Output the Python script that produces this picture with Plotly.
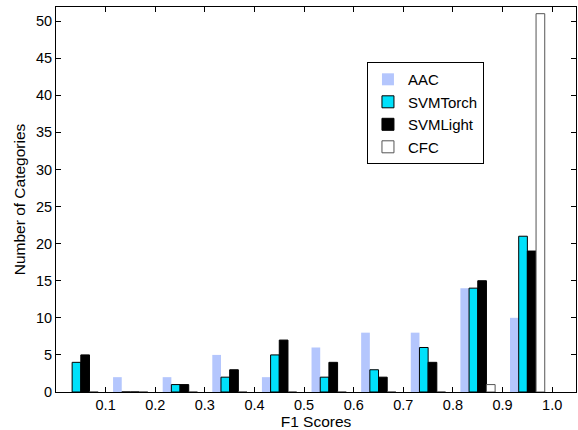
import plotly.graph_objects as go

bin_centers = [0.05, 0.15, 0.25, 0.35, 0.45, 0.55, 0.65, 0.75, 0.85, 0.95]
tick_vals = [0.1, 0.2, 0.3, 0.4, 0.5, 0.6, 0.7, 0.8, 0.9, 1.0]
tick_text = ["0.1", "0.2", "0.3", "0.4", "0.5", "0.6", "0.7", "0.8", "0.9", "1.0"]
y_ticks = [0, 5, 10, 15, 20, 25, 30, 35, 40, 45, 50]

aac = [0, 2, 2, 5, 2, 6, 8, 8, 14, 10]
svmtorch = [4, 0, 1, 2, 5, 2, 3, 6, 14, 21]
svmlight = [5, 0, 1, 3, 7, 4, 2, 4, 15, 19]
cfc = [0, 0, 0, 0, 0, 0, 0, 0, 1, 51]

series = [
    ("AAC", aac, "#b4c6fd", "#b4c6fd", 0),
    ("SVMTorch", svmtorch, "#00e1fb", "#000000", 1),
    ("SVMLight", svmlight, "#000000", "#000000", 1),
    ("CFC", cfc, "#ffffff", "#555555", 1),
]

fig = go.Figure()
for name, vals, fill, line, lw in series:
    fig.add_trace(go.Bar(
        x=bin_centers, y=vals, name=name,
        marker=dict(color=fill, line=dict(color=line, width=lw)),
    ))

font = "Liberation Sans, Arial, Helvetica, sans-serif"
fig.update_layout(
    width=578, height=430,
    margin=dict(l=56, r=2, t=7, b=38),
    paper_bgcolor="white", plot_bgcolor="white",
    barmode="group", bargap=0.3, bargroupgap=0.0,
    font=dict(family=font, size=14.5, color="black"),
    legend=dict(
        x=0.598, y=0.857, xanchor="left", yanchor="top",
        bordercolor="black", borderwidth=1, bgcolor="white",
        font=dict(size=15, family=font), tracegroupgap=0,
        itemwidth=30,
    ),
    showlegend=True,
)
fig.update_xaxes(
    range=[0, 1.048], tickvals=tick_vals, ticktext=tick_text,
    ticks="inside", ticklen=5, tickcolor="black",
    showline=True, linecolor="black", linewidth=1, mirror="ticks",
    showgrid=False, zeroline=False, automargin=False,
    title=dict(text="F1 Scores", standoff=0, font=dict(size=15.5)),
)
fig.update_yaxes(
    range=[0, 51.9], tickvals=y_ticks,
    ticks="inside", ticklen=5, tickcolor="black",
    showline=True, linecolor="black", linewidth=1, mirror="ticks",
    showgrid=False, zeroline=False, automargin=False,
    title=dict(text="Number of Categories", standoff=6, font=dict(size=15.5)),
)
fig.write_html(
    "out.html",
    config={"displayModeBar": False},
    post_script="document.body.style.margin='0';document.body.style.overflow='hidden';",
)
